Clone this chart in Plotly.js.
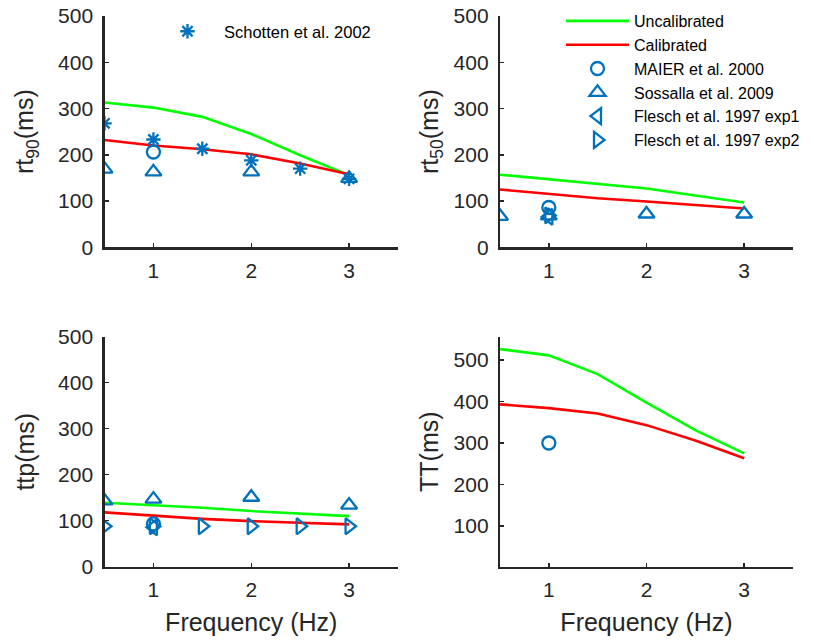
<!DOCTYPE html>
<html>
<head>
<meta charset="utf-8">
<script src="https://cdn.plot.ly/plotly-3.0.1.min.js"></script>
<style>html,body{margin:0;padding:0;background:#fff;}#chart{width:814px;height:644px;}</style>
</head>
<body>
<div id="chart"></div>
<script>
// Model frequencies (Hz)
var freq = [0.5, 1, 1.5, 2, 2.5, 3];

// rt90 (ms)
var rt90Uncal = [313, 302, 282, 245, 199, 156];
var rt90Cal = [232, 220, 212, 201, 181, 158];
var rt90SchottenX = [0.5, 1, 1.5, 2, 2.5, 3];
var rt90Schotten = [268, 233, 213, 188, 170, 148];
var rt90MaierX = [1];
var rt90Maier = [206];
var rt90SossallaX = [0.5, 1, 2, 3];
var rt90Sossalla = [169, 163, 163, 149];

// rt50 (ms)
var rt50Uncal = [157, 147, 138, 127, 112, 97];
var rt50Cal = [125, 115, 106, 99, 92, 84];
var rt50MaierX = [1];
var rt50Maier = [86];
var rt50SossallaX = [0.5, 1, 2, 3];
var rt50Sossalla = [67, 68, 72, 72];
var rt50Flesch1X = [1];
var rt50Flesch1 = [66];
var rt50Flesch2X = [1];
var rt50Flesch2 = [69];

// ttp (ms)
var ttpUncal = [139, 134, 128, 121, 116, 110];
var ttpCal = [118, 111, 104, 99, 95, 92];
var ttpMaierX = [1];
var ttpMaier = [93];
var ttpSossallaX = [0.5, 1, 2, 3];
var ttpSossalla = [143, 147, 151, 134];
var ttpFlesch1X = [1];
var ttpFlesch1 = [86];
var ttpFlesch2X = [0.5, 1, 1.5, 2, 2.5, 3];
var ttpFlesch2 = [88, 88, 88, 88, 88, 88];

// TT (ms)
var ttUncal = [526, 511, 466, 397, 331, 275];
var ttCal = [393, 384, 371, 343, 306, 263];
var ttMaierX = [1];
var ttMaier = [300];

var blue = '#0072BD';
var green = '#00FF00';
var red = '#FF0000';
var axisColor = '#262626';
var fontFam = 'Liberation Sans, Arial, Helvetica, sans-serif';

function lineTrace(y, color, name, xa, ya, legendName, show) {
  return {x: freq, y: y, type: 'scatter', mode: 'lines', name: name,
    line: {color: color, width: 2.6}, xaxis: xa, yaxis: ya,
    showlegend: !!show, legend: legendName || 'legend2', hoverinfo: 'skip'};
}
function markTrace(x, y, symbol, size, name, xa, ya, legendName, show) {
  return {x: x, y: y, type: 'scatter', mode: 'markers', name: name,
    marker: {symbol: symbol, size: size, color: blue, line: {color: blue, width: 2.3}},
    xaxis: xa, yaxis: ya, showlegend: !!show, legend: legendName || 'legend2', hoverinfo: 'skip'};
}

var data = [
  // subplot 1
  lineTrace(rt90Uncal, green, 'Uncalibrated', 'x', 'y'),
  lineTrace(rt90Cal, red, 'Calibrated', 'x', 'y'),
  markTrace(rt90MaierX, rt90Maier, 'circle-open', 13, 'MAIER et al. 2000', 'x', 'y'),
  markTrace(rt90SossallaX, rt90Sossalla, 'triangle-up-open', 14, 'Sossalla et al. 2009', 'x', 'y'),
  markTrace(rt90SchottenX, rt90Schotten, 'asterisk-open', 12, 'Schotten et al. 2002', 'x', 'y', 'legend', true),
  // subplot 2
  lineTrace(rt50Uncal, green, 'Uncalibrated', 'x2', 'y2', 'legend2', true),
  lineTrace(rt50Cal, red, 'Calibrated', 'x2', 'y2', 'legend2', true),
  markTrace(rt50MaierX, rt50Maier, 'circle-open', 13, 'MAIER et al. 2000', 'x2', 'y2', 'legend2', true),
  markTrace(rt50SossallaX, rt50Sossalla, 'triangle-up-open', 14, 'Sossalla et al. 2009', 'x2', 'y2', 'legend2', true),
  markTrace(rt50Flesch1X, rt50Flesch1, 'triangle-left-open', 14, 'Flesch et al. 1997 exp1', 'x2', 'y2', 'legend2', true),
  markTrace(rt50Flesch2X, rt50Flesch2, 'triangle-right-open', 14, 'Flesch et al. 1997 exp2', 'x2', 'y2', 'legend2', true),
  // subplot 3
  lineTrace(ttpUncal, green, 'Uncalibrated', 'x3', 'y3'),
  lineTrace(ttpCal, red, 'Calibrated', 'x3', 'y3'),
  markTrace(ttpSossallaX, ttpSossalla, 'triangle-up-open', 14, 'Sossalla et al. 2009', 'x3', 'y3'),
  markTrace(ttpFlesch2X, ttpFlesch2, 'triangle-right-open', 14, 'Flesch et al. 1997 exp2', 'x3', 'y3'),
  markTrace(ttpFlesch1X, ttpFlesch1, 'triangle-left-open', 14, 'Flesch et al. 1997 exp1', 'x3', 'y3'),
  markTrace(ttpMaierX, ttpMaier, 'circle-open', 13, 'MAIER et al. 2000', 'x3', 'y3'),
  // subplot 4
  lineTrace(ttUncal, green, 'Uncalibrated', 'x4', 'y4'),
  lineTrace(ttCal, red, 'Calibrated', 'x4', 'y4'),
  markTrace(ttMaierX, ttMaier, 'circle-open', 13, 'MAIER et al. 2000', 'x4', 'y4')
];

function xAxis(domain, anchor, title) {
  var a = {domain: domain, anchor: anchor, range: [0.5, 3.5], tickvals: [1, 2, 3],
    ticks: 'inside', ticklen: 4, tickwidth: 1.5, tickcolor: axisColor,
    showline: true, linewidth: 2.2, linecolor: axisColor, showgrid: false, zeroline: false,
    ticklabelstandoff: 3,
    tickfont: {family: fontFam, size: 21, color: axisColor}, fixedrange: true};
  if (title) a.title = {text: title, font: {family: fontFam, size: 25, color: axisColor}, standoff: 14};
  return a;
}
function yAxis(domain, anchor, range, tickvals, title, standoff) {
  return {domain: domain, anchor: anchor, range: range, tickvals: tickvals,
    ticks: 'inside', ticklen: 4, tickwidth: 1.5, tickcolor: axisColor,
    showline: true, linewidth: 2.2, linecolor: axisColor, showgrid: false, zeroline: false,
    ticklabelstandoff: 5,
    tickfont: {family: fontFam, size: 21, color: axisColor}, fixedrange: true,
    title: {text: title, font: {family: fontFam, size: 25, color: axisColor}, standoff: standoff}};
}

var xdL = [104.5 / 814, 398 / 814];
var xdR = [500 / 814, 793 / 814];
var ydT = [(644 - 247.3) / 644, (644 - 16) / 644];
var ydB = [(644 - 566.7) / 644, (644 - 336.7) / 644];
var ticks5 = [0, 100, 200, 300, 400, 500];

var layout = {
  width: 814, height: 644,
  margin: {l: 0, r: 0, t: 0, b: 0},
  paper_bgcolor: '#ffffff', plot_bgcolor: '#ffffff',
  font: {family: fontFam, color: axisColor},
  xaxis: xAxis(xdL, 'y'),
  yaxis: yAxis(ydT, 'x', [0, 500], ticks5, 'rt<sub>90</sub>(ms)', 17),
  xaxis2: xAxis(xdR, 'y2'),
  yaxis2: yAxis(ydT, 'x2', [0, 500], ticks5, 'rt<sub>50</sub>(ms)', 8),
  xaxis3: xAxis(xdL, 'y3', 'Frequency (Hz)'),
  yaxis3: yAxis(ydB, 'x3', [0, 500], ticks5, 'ttp(ms)', 16),
  xaxis4: xAxis(xdR, 'y4', 'Frequency (Hz)'),
  yaxis4: yAxis(ydB, 'x4', [2, 556], [100, 200, 300, 400, 500], 'TT(ms)', 8),
  legend: {x: 151 / 814, y: 1 - 14 / 644, xanchor: 'left', yanchor: 'top',
    bgcolor: 'rgba(0,0,0,0)', borderwidth: 0,
    font: {family: fontFam, size: 16.5, color: '#000000'}, itemwidth: 63},
  legend2: {x: 561 / 814, y: 1 - 4 / 644, xanchor: 'left', yanchor: 'top',
    bgcolor: 'rgba(0,0,0,0)', borderwidth: 0, tracegroupgap: 0,
    font: {family: fontFam, size: 16, color: '#000000'}, itemwidth: 63}
};

Plotly.newPlot('chart', data, layout, {displayModeBar: false, staticPlot: true});
</script>
</body>
</html>
